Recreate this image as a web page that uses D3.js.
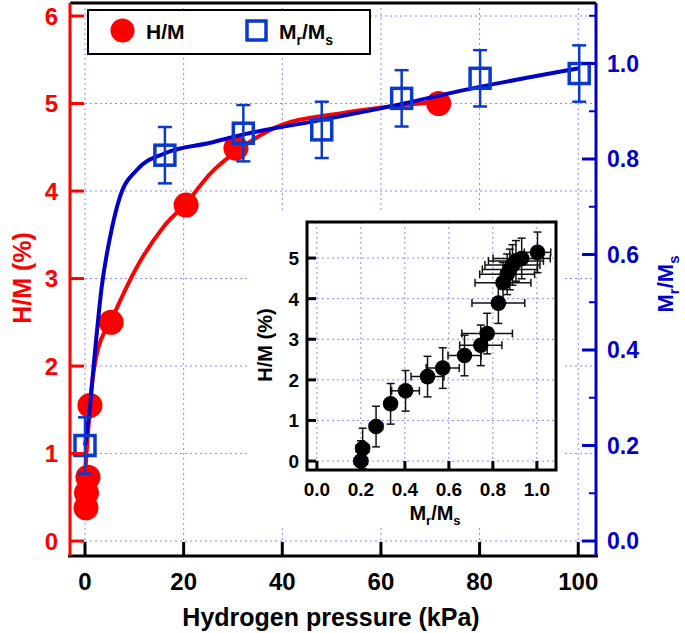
<!DOCTYPE html>
<html>
<head>
<meta charset="utf-8">
<script src="https://cdn.jsdelivr.net/npm/d3@7"></script>
<style>
  body { margin: 0; background: #fff; }
  svg { font-family: "Liberation Sans", Arial, sans-serif; font-weight: bold; }
</style>
</head>
<body>
<script>
// main plot: H/M (left axis) and Mr/Ms (right axis) vs pressure
var hmPressure = [0.2, 0.3, 0.6, 1.0, 5.3, 20.5, 30.6, 71.7];
var hmValue = [0.38, 0.55, 0.73, 1.55, 2.5, 3.84, 4.49, 5.0];

var mrPressure = [0, 16.2, 32.1, 48.0, 64.2, 80.1, 100.2];
var mrValue = [0.2, 0.808, 0.854, 0.861, 0.927, 0.969, 0.979];
var mrErr = [0.059, 0.059, 0.059, 0.059, 0.059, 0.059, 0.059];

// fitted curves
var hmFitP = [0, 0.3, 0.7, 1.0, 2.4, 5.3, 10.5, 15.9, 20.5, 25.4, 30.6, 40, 52, 64, 72];
var hmFitV = [0.7, 1.0, 1.3, 1.55, 2.14, 2.52, 3.13, 3.59, 3.86, 4.2, 4.45, 4.76, 4.89, 4.98, 5.02];
var mrFitP = [0, 1.0, 2.0, 3.4, 5.1, 7.1, 10.5, 16.2, 25.4, 32, 48, 60, 80, 100.2];
var mrFitV = [0.2, 0.281, 0.394, 0.533, 0.637, 0.721, 0.777, 0.812, 0.834, 0.851, 0.882, 0.906, 0.951, 0.99];

var xTicks = [0, 20, 40, 60, 80, 100];
var leftTicks = [0, 1, 2, 3, 4, 5, 6];
var rightTicks = [0, 0.2, 0.4, 0.6, 0.8, 1.0];
var rightMinor = [0.1, 0.3, 0.5, 0.7, 0.9, 1.1];

// inset: H/M vs Mr/Ms
var insetMr = [0.2, 0.208, 0.269, 0.335, 0.403, 0.503, 0.572, 0.671, 0.745, 0.774, 0.825, 0.846, 0.865, 0.877, 0.889, 0.905, 0.931, 1.003];
var insetHM = [0.0, 0.31, 0.85, 1.41, 1.73, 2.08, 2.29, 2.6, 2.85, 3.14, 3.89, 4.39, 4.6, 4.72, 4.83, 4.93, 4.99, 5.14];
var insetMrErr = [0.03, 0.03, 0.03, 0.02, 0.063, 0.075, 0.075, 0.075, 0.096, 0.115, 0.12, 0.127, 0.125, 0.125, 0.125, 0.125, 0.13, 0.06];
var insetHMErr = [0.5, 0.5, 0.5, 0.5, 0.5, 0.5, 0.5, 0.5, 0.5, 0.5, 0.5, 0.5, 0.5, 0.5, 0.5, 0.5, 0.5, 0.5];
var insetXTicks = [0, 0.2, 0.4, 0.6, 0.8, 1.0];
var insetYTicks = [0, 1, 2, 3, 4, 5];

var RED = "#ff0000", BLUE = "#0000c8", SQ = "#0a3acc", GRID = "#8a8aff";

var svg = d3.select("body").append("svg").attr("width", 685).attr("height", 633);

var plot = {left: 70, right: 596, top: 3, bottom: 556};
var x = d3.scaleLinear().domain([-3.04, 103.6]).range([plot.left, plot.right]);
var yL = d3.scaleLinear().domain([-0.171, 6.149]).range([plot.bottom, plot.top]);
var yR = d3.scaleLinear().domain([-0.0314, 1.1267]).range([plot.bottom, plot.top]);

function subLabel(t, size, subSize, shift) {
  t.append("tspan").text("M");
  t.append("tspan").attr("font-size", subSize).attr("dy", shift).text("r");
  t.append("tspan").attr("font-size", size).attr("dy", -shift).text("/M");
  t.append("tspan").attr("font-size", subSize).attr("dy", shift).text("s");
}

// grid
var grid = svg.append("g").attr("stroke", GRID).attr("stroke-width", 1).attr("stroke-dasharray", "2,3");
grid.selectAll(".gx").data(xTicks).enter().append("line")
    .attr("x1", function(d) { return x(d); }).attr("x2", function(d) { return x(d); })
    .attr("y1", plot.top).attr("y2", plot.bottom);
grid.selectAll(".gy").data(leftTicks).enter().append("line")
    .attr("y1", function(d) { return yL(d); }).attr("y2", function(d) { return yL(d); })
    .attr("x1", plot.left).attr("x2", plot.right);

// red fit + points
var hmFit = hmFitP.map(function(p, i) { return [p, hmFitV[i]]; });
svg.append("path").datum(hmFit)
    .attr("fill", "none").attr("stroke", RED).attr("stroke-width", 4)
    .attr("d", d3.line().x(function(d) { return x(d[0]); }).y(function(d) { return yL(d[1]); }).curve(d3.curveMonotoneX));
svg.selectAll(".hm").data(hmPressure).enter().append("circle")
    .attr("cx", function(d) { return x(d); })
    .attr("cy", function(d, i) { return yL(hmValue[i]); })
    .attr("r", 12.5).attr("fill", RED);

// blue fit + squares
var mrFit = mrFitP.map(function(p, i) { return [p, mrFitV[i]]; });
svg.append("path").datum(mrFit)
    .attr("fill", "none").attr("stroke", BLUE).attr("stroke-width", 4)
    .attr("d", d3.line().x(function(d) { return x(d[0]); }).y(function(d) { return yR(d[1]); }).curve(d3.curveMonotoneX));
var sq = svg.selectAll(".mr").data(mrPressure).enter().append("g")
    .attr("transform", function(d, i) { return "translate(" + x(d) + "," + yR(mrValue[i]) + ")"; });
sq.append("line").attr("stroke", SQ).attr("stroke-width", 2.5)
    .attr("y1", function(d, i) { return yR(mrValue[i] + mrErr[i]) - yR(mrValue[i]); })
    .attr("y2", function(d, i) { return yR(mrValue[i] - mrErr[i]) - yR(mrValue[i]); });
sq.append("line").attr("stroke", SQ).attr("stroke-width", 2.5).attr("x1", -7).attr("x2", 7)
    .attr("y1", function(d, i) { return yR(mrValue[i] + mrErr[i]) - yR(mrValue[i]); })
    .attr("y2", function(d, i) { return yR(mrValue[i] + mrErr[i]) - yR(mrValue[i]); });
sq.append("line").attr("stroke", SQ).attr("stroke-width", 2.5).attr("x1", -7).attr("x2", 7)
    .attr("y1", function(d, i) { return yR(mrValue[i] - mrErr[i]) - yR(mrValue[i]); })
    .attr("y2", function(d, i) { return yR(mrValue[i] - mrErr[i]) - yR(mrValue[i]); });
sq.append("rect").attr("x", -10).attr("y", -10).attr("width", 20).attr("height", 20)
    .attr("fill", "none").attr("stroke", SQ).attr("stroke-width", 3.5);

// frame + axes
svg.append("line").attr("x1", plot.left).attr("x2", plot.right).attr("y1", plot.top).attr("y2", plot.top)
    .attr("stroke", "#000").attr("stroke-width", 3);
svg.append("line").attr("x1", plot.left - 2).attr("x2", plot.right + 2).attr("y1", plot.bottom).attr("y2", plot.bottom)
    .attr("stroke", "#000").attr("stroke-width", 3);
svg.selectAll(".xt").data(xTicks).enter().append("line")
    .attr("x1", function(d) { return x(d); }).attr("x2", function(d) { return x(d); })
    .attr("y1", plot.bottom).attr("y2", plot.bottom - 14)
    .attr("stroke", "#000").attr("stroke-width", 3);
svg.selectAll(".xl").data(xTicks).enter().append("text")
    .attr("x", function(d) { return x(d); }).attr("y", 590)
    .attr("text-anchor", "middle").attr("font-size", 24).attr("fill", "#000")
    .text(function(d) { return d; });
svg.append("text").attr("x", 331).attr("y", 626).attr("text-anchor", "middle")
    .attr("font-size", 25).attr("fill", "#000").text("Hydrogen pressure (kPa)");

// left axis (red)
svg.append("line").attr("x1", plot.left).attr("x2", plot.left).attr("y1", plot.top).attr("y2", plot.bottom)
    .attr("stroke", RED).attr("stroke-width", 3);
svg.selectAll(".lt").data(leftTicks).enter().append("line")
    .attr("x1", plot.left).attr("x2", plot.left + 14)
    .attr("y1", function(d) { return yL(d); }).attr("y2", function(d) { return yL(d); })
    .attr("stroke", RED).attr("stroke-width", 3);
svg.selectAll(".ll").data(leftTicks).enter().append("text")
    .attr("x", 58).attr("y", function(d) { return yL(d) + 8.5; })
    .attr("text-anchor", "end").attr("font-size", 24).attr("fill", RED)
    .text(function(d) { return d; });
svg.append("text").attr("transform", "translate(31,278) rotate(-90)")
    .attr("text-anchor", "middle").attr("font-size", 25).attr("fill", RED).text("H/M (%)");

// right axis (blue)
svg.append("line").attr("x1", plot.right).attr("x2", plot.right).attr("y1", plot.top).attr("y2", plot.bottom)
    .attr("stroke", BLUE).attr("stroke-width", 3);
svg.selectAll(".rt").data(rightTicks).enter().append("line")
    .attr("x1", plot.right).attr("x2", plot.right - 14)
    .attr("y1", function(d) { return yR(d); }).attr("y2", function(d) { return yR(d); })
    .attr("stroke", BLUE).attr("stroke-width", 3);
svg.selectAll(".rm").data(rightMinor).enter().append("line")
    .attr("x1", plot.right).attr("x2", plot.right - 7)
    .attr("y1", function(d) { return yR(d); }).attr("y2", function(d) { return yR(d); })
    .attr("stroke", BLUE).attr("stroke-width", 2);
svg.selectAll(".rl").data(rightTicks).enter().append("text")
    .attr("x", 607).attr("y", function(d) { return yR(d) + 8; })
    .attr("font-size", 23).attr("fill", BLUE)
    .text(function(d) { return d3.format(".1f")(d); });
var rlab = svg.append("text").attr("transform", "translate(673,284) rotate(-90)")
    .attr("text-anchor", "middle").attr("font-size", 22).attr("fill", BLUE);
subLabel(rlab, 22, 15, 6);

// legend
svg.append("rect").attr("x", 88).attr("y", 10).attr("width", 282).attr("height", 44)
    .attr("fill", "#fff").attr("stroke", "#000").attr("stroke-width", 2);
svg.append("circle").attr("cx", 122.5).attr("cy", 30.5).attr("r", 12).attr("fill", RED);
svg.append("text").attr("x", 146).attr("y", 38.5).attr("font-size", 21).attr("fill", "#000").text("H/M");
svg.append("rect").attr("x", 247).attr("y", 21).attr("width", 19).attr("height", 19)
    .attr("fill", "none").attr("stroke", SQ).attr("stroke-width", 3.5);
var leg = svg.append("text").attr("x", 279).attr("y", 38.5).attr("font-size", 21).attr("fill", "#000");
subLabel(leg, 21, 14, 6);

// inset
svg.append("rect").attr("x", 250).attr("y", 213).attr("width", 313).attr("height", 315).attr("fill", "#fff");
var ins = {left: 307, right: 556, top: 222, bottom: 470};
var ix = d3.scaleLinear().domain([-0.045, 1.087]).range([ins.left, ins.right]);
var iy = d3.scaleLinear().domain([-0.22, 5.888]).range([ins.bottom, ins.top]);

svg.append("clipPath").attr("id", "insclip").append("rect")
    .attr("x", ins.left).attr("y", ins.top).attr("width", ins.right - ins.left).attr("height", ins.bottom - ins.top);

var igrid = svg.append("g").attr("stroke", GRID).attr("stroke-width", 1).attr("stroke-dasharray", "2,3");
igrid.selectAll(".igx").data(insetXTicks).enter().append("line")
    .attr("x1", function(d) { return ix(d); }).attr("x2", function(d) { return ix(d); })
    .attr("y1", ins.top).attr("y2", ins.bottom);
igrid.selectAll(".igy").data(insetYTicks).enter().append("line")
    .attr("y1", function(d) { return iy(d); }).attr("y2", function(d) { return iy(d); })
    .attr("x1", ins.left).attr("x2", ins.right);

var ipts = svg.append("g").attr("clip-path", "url(#insclip)");
var ip = ipts.selectAll(".ip").data(insetMr).enter().append("g");
ip.append("line").attr("stroke", "#111").attr("stroke-width", 1.5)
    .attr("x1", function(d) { return ix(d); }).attr("x2", function(d) { return ix(d); })
    .attr("y1", function(d, i) { return iy(insetHM[i] + insetHMErr[i]); })
    .attr("y2", function(d, i) { return iy(insetHM[i] - insetHMErr[i]); });
ip.append("line").attr("stroke", "#111").attr("stroke-width", 1.5)
    .attr("x1", function(d) { return ix(d) - 4; }).attr("x2", function(d) { return ix(d) + 4; })
    .attr("y1", function(d, i) { return iy(insetHM[i] + insetHMErr[i]); })
    .attr("y2", function(d, i) { return iy(insetHM[i] + insetHMErr[i]); });
ip.append("line").attr("stroke", "#111").attr("stroke-width", 1.5)
    .attr("x1", function(d) { return ix(d) - 4; }).attr("x2", function(d) { return ix(d) + 4; })
    .attr("y1", function(d, i) { return iy(insetHM[i] - insetHMErr[i]); })
    .attr("y2", function(d, i) { return iy(insetHM[i] - insetHMErr[i]); });
ip.append("line").attr("stroke", "#111").attr("stroke-width", 1.5)
    .attr("x1", function(d, i) { return ix(d - insetMrErr[i]); })
    .attr("x2", function(d, i) { return ix(d + insetMrErr[i]); })
    .attr("y1", function(d, i) { return iy(insetHM[i]); })
    .attr("y2", function(d, i) { return iy(insetHM[i]); });
ip.append("line").attr("stroke", "#111").attr("stroke-width", 1.5)
    .attr("x1", function(d, i) { return ix(d - insetMrErr[i]); })
    .attr("x2", function(d, i) { return ix(d - insetMrErr[i]); })
    .attr("y1", function(d, i) { return iy(insetHM[i]) - 4; })
    .attr("y2", function(d, i) { return iy(insetHM[i]) + 4; });
ip.append("line").attr("stroke", "#111").attr("stroke-width", 1.5)
    .attr("x1", function(d, i) { return ix(d + insetMrErr[i]); })
    .attr("x2", function(d, i) { return ix(d + insetMrErr[i]); })
    .attr("y1", function(d, i) { return iy(insetHM[i]) - 4; })
    .attr("y2", function(d, i) { return iy(insetHM[i]) + 4; });
ipts.selectAll(".ic").data(insetMr).enter().append("circle")
    .attr("cx", function(d) { return ix(d); })
    .attr("cy", function(d, i) { return iy(insetHM[i]); })
    .attr("r", 7.8).attr("fill", "#000");

svg.append("rect").attr("x", ins.left).attr("y", ins.top)
    .attr("width", ins.right - ins.left).attr("height", ins.bottom - ins.top)
    .attr("fill", "none").attr("stroke", "#000").attr("stroke-width", 3);
svg.selectAll(".ixt").data(insetXTicks).enter().append("line")
    .attr("x1", function(d) { return ix(d); }).attr("x2", function(d) { return ix(d); })
    .attr("y1", ins.bottom).attr("y2", ins.bottom - 9)
    .attr("stroke", "#000").attr("stroke-width", 3);
svg.selectAll(".iyt").data(insetYTicks).enter().append("line")
    .attr("x1", ins.left).attr("x2", ins.left + 9)
    .attr("y1", function(d) { return iy(d); }).attr("y2", function(d) { return iy(d); })
    .attr("stroke", "#000").attr("stroke-width", 3);
svg.selectAll(".ixl").data(insetXTicks).enter().append("text")
    .attr("x", function(d) { return ix(d); }).attr("y", 496)
    .attr("text-anchor", "middle").attr("font-size", 19).attr("fill", "#000")
    .text(function(d) { return d3.format(".1f")(d); });
svg.selectAll(".iyl").data(insetYTicks).enter().append("text")
    .attr("x", 299).attr("y", function(d) { return iy(d) + 7; })
    .attr("text-anchor", "end").attr("font-size", 19).attr("fill", "#000")
    .text(function(d) { return d; });
svg.append("text").attr("transform", "translate(272,345) rotate(-90)")
    .attr("text-anchor", "middle").attr("font-size", 20).attr("fill", "#000").text("H/M (%)");
var ilab = svg.append("text").attr("x", 435).attr("y", 520)
    .attr("text-anchor", "middle").attr("font-size", 20).attr("fill", "#000");
subLabel(ilab, 20, 13, 5);
</script>
</body>
</html>
